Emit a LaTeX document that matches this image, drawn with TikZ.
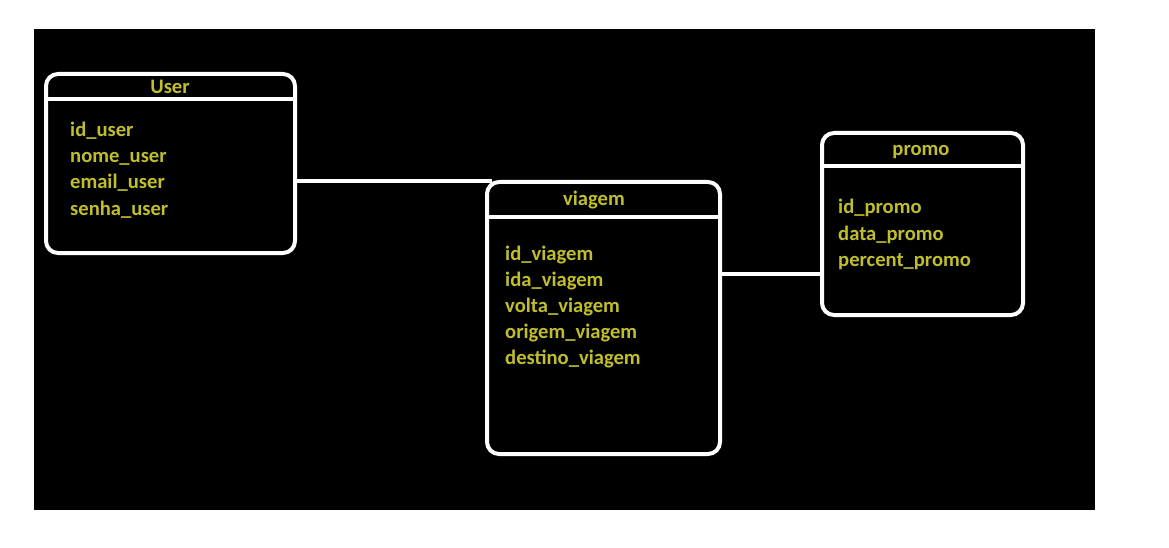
\documentclass[tikz,border=0pt]{standalone}
\usepackage{fontspec}
\setmainfont{Carlito}
\usepackage{tikz}
\usepackage{xcolor}
\definecolor{ColTxt}{RGB}{192,190,44}
\definecolor{ColBg}{RGB}{0,0,0}
\tikzstyle{TableBox}=[draw=white,line width=4pt,rounded corners=12pt,inner sep=0pt]
\tikzstyle{HeadLine}=[draw=white,line width=4pt,shorten <=3pt,shorten >=3pt]
\tikzstyle{TitleText}=[text=ColTxt,font=\fontsize{20.6}{24}\selectfont\bfseries,inner sep=0pt,anchor=base]
\tikzstyle{FieldText}=[TitleText,anchor=base west]
\tikzstyle{RelLine}=[white,line width=4pt]

\begin{document}
\begin{tikzpicture}[x=1pt,y=-1pt]
        \useasboundingbox[fill=white](0,0)rectangle(1169,548);
        \fill[ColBg](34,29)rectangle(1095,510);
        % tables
        \node[TableBox,minimum width=249pt,minimum height=179pt](user)at(170.5,163.5){};
        \node[TableBox,minimum width=233pt,minimum height=272pt](viagem)at(603.5,318){};
        \node[TableBox,minimum width=201pt,minimum height=182pt](promo)at(922.5,224){};
        \draw[HeadLine]([yshift=-27pt]user.north west)--([yshift=-27pt]user.north east);
        \draw[HeadLine]([yshift=-37pt]viagem.north west)--([yshift=-37pt]viagem.north east);
        \draw[HeadLine]([yshift=-35pt]promo.north west)--([yshift=-35pt]promo.north east);
        % titles
        \node[TitleText](userT)at(170,94){User};
        \node[TitleText](viagemT)at(594,205){viagem};
        \node[TitleText](promoT)at(921,156){promo};
        % fields
        \node[FieldText](u1)at(70,137){id\_user};
        \node[FieldText](u2)at(70,163){nome\_user};
        \node[FieldText](u3)at(70,189){email\_user};
        \node[FieldText](u4)at(70,215){senha\_user};
        \node[FieldText](v1)at(505,260){id\_viagem};
        \node[FieldText](v2)at(505,286){ida\_viagem};
        \node[FieldText](v3)at(505,312){volta\_viagem};
        \node[FieldText](v4)at(505,338){origem\_viagem};
        \node[FieldText](v5)at(505,364){destino\_viagem};
        \node[FieldText](p1)at(838,214){id\_promo};
        \node[FieldText](p2)at(838,240){data\_promo};
        \node[FieldText](p3)at(838,266){percent\_promo};
        % relations
        \draw[RelLine]([yshift=-17.5pt]user.east)--([yshift=-17.5pt,xshift=7pt]user.east-|viagem.north west);
        \draw[RelLine]([yshift=44pt]viagem.east)--([yshift=44pt]viagem.east-|promo.west);
    \end{tikzpicture}
\end{document}
